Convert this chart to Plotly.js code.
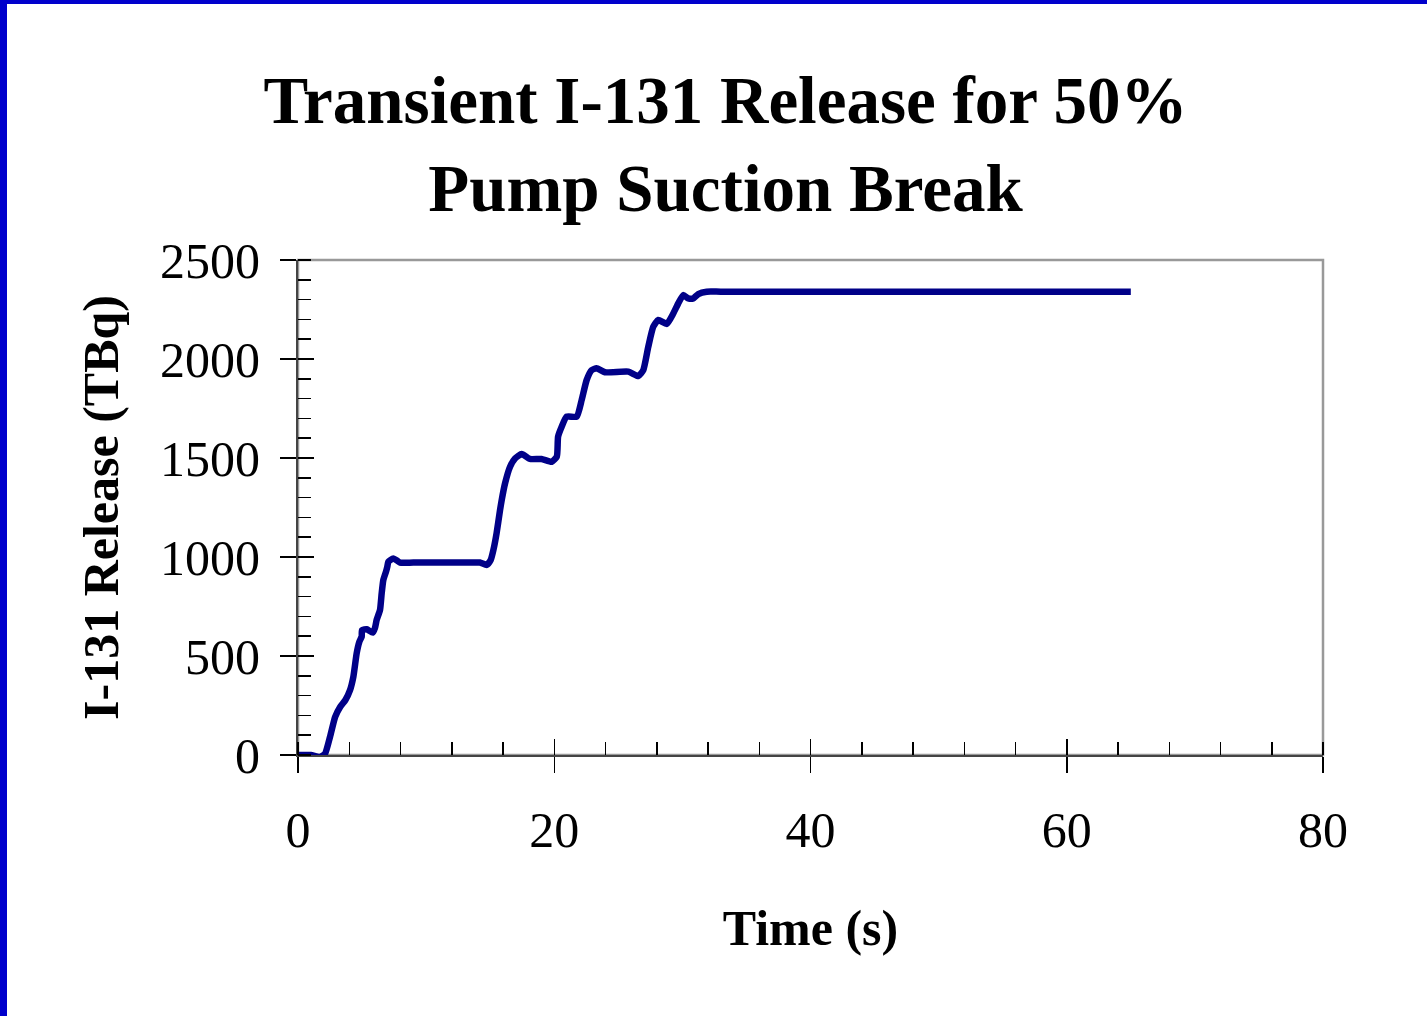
<!DOCTYPE html>
<html>
<head>
<meta charset="utf-8">
<script src="https://cdn.plot.ly/plotly-3.0.1.min.js"></script>
<style>
  html, body { margin: 0; padding: 0; background: #fff; }
  #wrap { width: 1420px; height: 1012px; border-top: 4px solid #0000CC; border-left: 7px solid #0000CC; }
  #chart { width: 1420px; height: 1012px; }
</style>
</head>
<body>
<div id="wrap"><div id="chart"></div></div>
<script>
// Time (s)
const timeS = [0, 1.0, 1.7, 2.1, 2.5, 2.9, 3.3, 3.7, 4.06, 4.32, 4.58, 4.79, 4.97, 5.0, 5.36, 5.83, 6.0, 6.14, 6.4, 6.53, 6.66, 6.87, 6.97, 7.05, 7.44, 7.96, 9.0, 13.5, 14.2, 14.73, 15.04, 15.25, 15.5, 15.77, 15.9, 16.16, 16.55, 16.94, 17.46, 18.1, 19.0, 19.8, 20.2, 20.3, 20.58, 20.97, 21.75, 22.14, 22.53, 22.92, 23.3, 23.96, 25.78, 26.56, 26.95, 27.34, 27.73, 28.12, 28.78, 29.3, 29.68, 30.07, 30.46, 30.85, 31.24, 31.9, 33.0, 63.0, 65];
// I-131 Release (TBq)
const releaseTBq = [0, 0, -10, 5, 92, 193, 244, 278, 328, 395, 514, 572, 598, 631, 635, 618, 640, 682, 732, 816, 884, 926, 951, 976, 993, 972, 972, 972, 972, 960, 985, 1035, 1120, 1237, 1288, 1372, 1456, 1498, 1520, 1495, 1495, 1481, 1507, 1608, 1658, 1709, 1709, 1793, 1894, 1944, 1953, 1933, 1936, 1914, 1944, 2062, 2163, 2197, 2177, 2231, 2281, 2323, 2306, 2306, 2328, 2340, 2340, 2340, 2340];

const titleLines = ["Transient I-131 Release for 50%", "Pump Suction Break"];
const xTitle = "Time (s)";
const yTitle = "I-131 Release (TBq)";

const serif = "Liberation Serif, Times New Roman, serif";

const traces = [
  {
    x: timeS, y: releaseTBq, type: 'scatter', mode: 'lines',
    line: { color: '#000088', width: 6.5, shape: 'spline', smoothing: 0.5 },
    hoverinfo: 'x+y', showlegend: false
  },
  { x: [], y: [], xaxis: 'x2', yaxis: 'y2', type: 'scatter', mode: 'lines', showlegend: false, hoverinfo: 'skip' }
];

const layout = {
  width: 1420, height: 1012,
  margin: { l: 291, r: 104, t: 256, b: 261 },
  paper_bgcolor: '#ffffff', plot_bgcolor: '#ffffff',
  showlegend: false,
  title: {
    text: titleLines.join('<br>'),
    font: { family: serif, size: 67, color: '#000', weight: 'bold' },
    x: 0.506, xanchor: 'center', xref: 'container',
    y: 0.882, yanchor: 'top', yref: 'container'
  },
  xaxis: {
    range: [0, 80], dtick: 20, tick0: 0,
    showgrid: false, zeroline: false,
    showline: true, linecolor: '#444', linewidth: 2,
    ticks: 'outside', ticklen: 16, tickwidth: 1.5, tickcolor: '#000',
    minor: { ticks: 'inside', dtick: 4, ticklen: 13, tickwidth: 1.5, tickcolor: '#000', showgrid: false },
    tickfont: { family: serif, size: 50, color: '#000' },
    ticklabelstandoff: 14,
    title: { text: xTitle, font: { family: serif, size: 50, color: '#000', weight: 'bold' }, standoff: 53 }
  },
  yaxis: {
    range: [0, 2500], dtick: 500, tick0: 0,
    showgrid: false, zeroline: false,
    showline: true, linecolor: '#444', linewidth: 2,
    ticks: 'outside', ticklen: 16, tickwidth: 1.5, tickcolor: '#000',
    minor: { ticks: 'inside', dtick: 100, ticklen: 13, tickwidth: 1.5, tickcolor: '#000', showgrid: false },
    tickfont: { family: serif, size: 50, color: '#000' },
    ticklabelstandoff: 10,
    title: { text: yTitle, font: { family: serif, size: 50, color: '#000', weight: 'bold' }, standoff: 26 }
  },
  xaxis2: {
    overlaying: 'x', anchor: 'y', side: 'bottom', range: [0, 80], dtick: 20, tick0: 0,
    showgrid: false, zeroline: false, showline: false, showticklabels: false,
    ticks: 'inside', ticklen: 16, tickwidth: 1.5, tickcolor: '#000'
  },
  yaxis2: {
    overlaying: 'y', anchor: 'x', side: 'left', range: [0, 2500], dtick: 500, tick0: 0,
    showgrid: false, zeroline: false, showline: false, showticklabels: false,
    ticks: 'inside', ticklen: 16, tickwidth: 1.5, tickcolor: '#000'
  },
  shapes: [
    { type: 'rect', xref: 'paper', yref: 'paper', x0: 0, x1: 1, y0: 0, y1: 1,
      line: { color: '#999999', width: 2.5 }, layer: 'below' }
  ]
};

Plotly.newPlot('chart', traces, layout, { displayModeBar: false, staticPlot: true });
</script>
</body>
</html>
